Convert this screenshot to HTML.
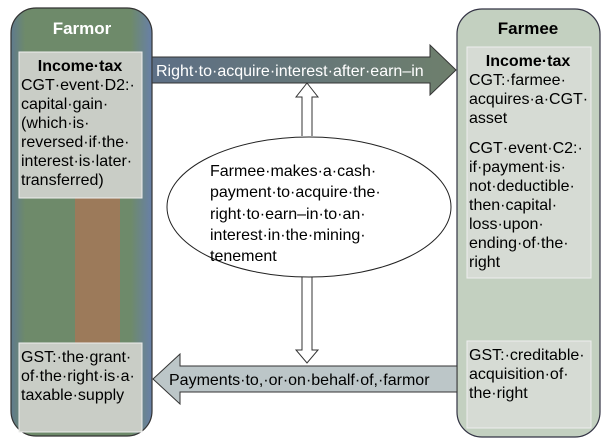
<!DOCTYPE html>
<html><head><meta charset="utf-8"><style>
html,body{margin:0;padding:0;background:#fff;}
svg text{font-family:"Liberation Sans",Arial,sans-serif;}
</style></head><body>
<svg width="610" height="441" viewBox="0 0 610 441" xmlns="http://www.w3.org/2000/svg">
<defs>
<linearGradient id="gl" x1="0" x2="1" y1="0" y2="0">
<stop offset="0" stop-color="#5f7a8e"/><stop offset="0.1" stop-color="#6e8a6a"/><stop offset="0.85" stop-color="#6e8a6a"/><stop offset="1" stop-color="#6880a8"/>
</linearGradient>
<linearGradient id="ga" x1="0" x2="1" y1="0" y2="0">
<stop offset="0" stop-color="#5d6f86"/><stop offset="1" stop-color="#6e7f6c"/>
</linearGradient>
</defs>
<!-- Farmor -->
<rect x="11" y="8" width="141" height="428" rx="25" fill="url(#gl)" stroke="#333" stroke-width="1.2"/>
<rect x="75" y="198" width="45" height="145" fill="#9c7a5a"/>
<text x="82" y="34" font-size="17" font-weight="bold" fill="#fff" text-anchor="middle">Farmor</text>
<rect x="19" y="52" width="123" height="146" fill="#c9cdc6" stroke="#eee"/>
<g font-size="16" fill="#000">
<text x="80" y="71" font-weight="bold" text-anchor="middle">Income·tax</text>
<text x="21" y="90">CGT·event·D2:·</text>
<text x="21" y="109">capital·gain·</text>
<text x="21" y="128">(which·is·</text>
<text x="21" y="147">reversed·if·the·</text>
<text x="21" y="166">interest·is·later·</text>
<text x="21" y="185">transferred)</text>
</g>
<rect x="19" y="343" width="123" height="89" fill="#c9cdc6" stroke="#eee"/>
<g font-size="16" fill="#000">
<text x="21" y="362">GST:·the·grant·</text>
<text x="21" y="381">of·the·right·is·a·</text>
<text x="21" y="400">taxable·supply</text>
</g>
<!-- Farmee -->
<rect x="457" y="9" width="143" height="428" rx="25" fill="#c3d0c0" stroke="#334" stroke-width="1.2"/>
<text x="528" y="34" font-size="17" font-weight="bold" fill="#000" text-anchor="middle">Farmee</text>
<rect x="467" y="47" width="124" height="231" fill="#d6dbd4" stroke="#eee"/>
<g font-size="16" fill="#000">
<text x="528" y="66" font-weight="bold" text-anchor="middle">Income·tax</text>
<text x="469" y="85">CGT:·farmee·</text>
<text x="469" y="104">acquires·a·CGT·</text>
<text x="469" y="123">asset</text>
<text x="469" y="153">CGT·event·C2:·</text>
<text x="469" y="172">if·payment·is·</text>
<text x="469" y="191">not·deductible·</text>
<text x="469" y="210">then·capital·</text>
<text x="469" y="229">loss·upon·</text>
<text x="469" y="248">ending·of·the·</text>
<text x="469" y="267">right</text>
</g>
<rect x="467" y="341" width="124" height="87" fill="#d6dbd4" stroke="#eee"/>
<g font-size="16" fill="#000">
<text x="469" y="360">GST:·creditable·</text>
<text x="469" y="379">acquisition·of·</text>
<text x="469" y="398">the·right</text>
</g>
<!-- top arrow -->
<path d="M152,57 L430,57 L430,45 L456,70 L430,95 L430,83 L152,83 Z" fill="url(#ga)" stroke="#333"/>
<text x="156" y="76" font-size="16" fill="#fff">Right·to·acquire·interest·after·earn–in</text>
<!-- bottom arrow -->
<path d="M457,366 L180,366 L180,354 L153,379 L180,404 L180,392 L457,392 Z" fill="#bcc6c8" stroke="#333"/>
<text x="169" y="385" font-size="16" fill="#000">Payments·to,·or·on·behalf·of,·farmor</text>
<!-- up arrow -->
<path d="M302,136 L302,97 L296,97 L307,83 L318,97 L312,97 L312,136" fill="#fff" stroke="#333"/>
<!-- down arrow -->
<path d="M302,277 L302,350 L296,350 L307,363 L318,350 L312,350 L312,277" fill="#fff" stroke="#333"/>
<!-- ellipse -->
<ellipse cx="309" cy="207" rx="142" ry="70" fill="#fff" stroke="#222"/>
<g font-size="16" fill="#000">
<text x="210" y="176">Farmee·makes·a·cash·</text>
<text x="210" y="197">payment·to·acquire·the·</text>
<text x="210" y="219">right·to·earn–in·to·an·</text>
<text x="210" y="240">interest·in·the·mining·</text>
<text x="210" y="261">tenement</text>
</g>
</svg>
</body></html>
